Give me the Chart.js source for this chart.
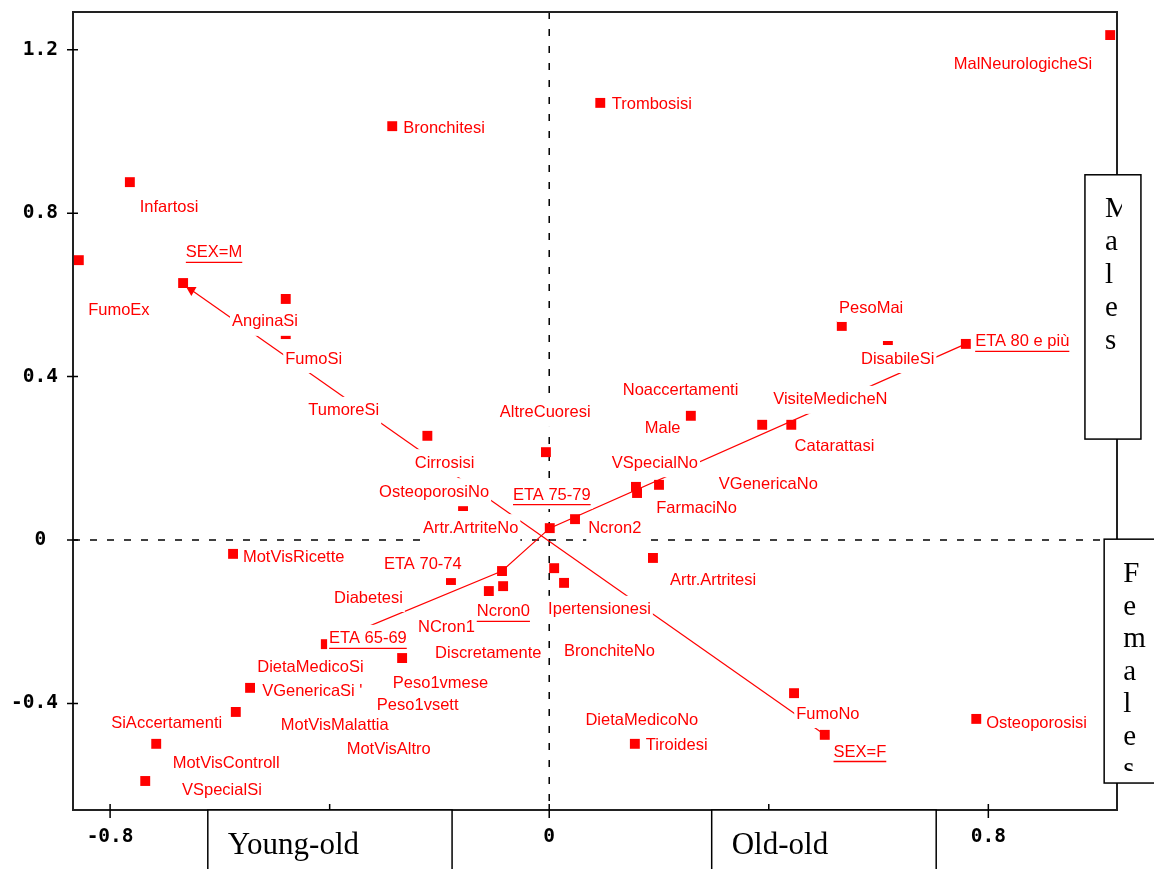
<!DOCTYPE html>
<html lang="it">
<head>
<meta charset="UTF-8">
<title>Analisi delle corrispondenze</title>
<script src="https://cdn.jsdelivr.net/npm/chart.js@4.4.0/dist/chart.umd.min.js"></script>
<style>
  html, body { margin: 0; padding: 0; background: #fff; }
  #grafico { display: block; }
</style>
</head>
<body>
<canvas id="grafico" width="1154" height="869"></canvas>
<script>
// Tacche degli assi
const xTicks = [-0.8, -0.4, 0, 0.4, 0.8];
const yTicks = [-0.4, 0, 0.4, 0.8, 1.2];

// Modalità (quadratini rossi) sul piano fattoriale
const puntiX = [1.022, 0.093, -0.286, -0.764, -0.857, -0.667, -0.480, -0.480, -0.222, -0.006,
  0.258, 0.388, 0.441, 0.533, 0.617, 0.759, 0.158, 0.160, 0.200, 0.047,
  0.001, -0.157, -0.576, 0.189, 0.009, 0.027, -0.086, -0.084, -0.110, -0.179,
  -0.407, -0.268, -0.545, -0.571, -0.716, -0.736, 0.446, 0.502, 0.778, 0.156];
const puntiY = [1.236, 1.070, 1.013, 0.876, 0.685, 0.629, 0.590, 0.504, 0.255, 0.215,
  0.304, 0.282, 0.282, 0.524, 0.475, 0.480, 0.130, 0.115, 0.135, 0.051,
  0.029, 0.083, -0.034, -0.044, -0.069, -0.105, -0.076, -0.113, -0.125, -0.098,
  -0.255, -0.289, -0.362, -0.421, -0.499, -0.590, -0.375, -0.477, -0.438, -0.499];

// Etichette delle modalità
const etichette = ['MalNeurologicheSi', 'Trombosisi', 'Bronchitesi', 'Infartosi', 'SEX=M', 'FumoEx',
  'AnginaSi', 'FumoSi', 'TumoreSi', 'Cirrosisi', 'OsteoporosiNo', 'AltreCuoresi', 'Noaccertamenti',
  'Male', 'VSpecialNo', 'ETA 75-79', 'VGenericaNo', 'FarmaciNo', 'Artr.ArtriteNo', 'Ncron2',
  'ETA 70-74', 'Artr.Artritesi', 'MotVisRicette', 'PesoMai', 'DisabileSi', 'ETA 80 e più',
  'VisiteMedicheN', 'Catarattasi', 'Diabetesi', 'ETA 65-69', 'Ncron0', 'NCron1', 'Ipertensionesi',
  'Discretamente', 'BronchiteNo', 'DietaMedicoSi', "VGenericaSi '", 'Peso1vmese', 'Peso1vsett',
  'MotVisMalattia', 'MotVisAltro', 'SiAccertamenti', 'MotVisControll', 'VSpecialSi',
  'DietaMedicoNo', 'Tiroidesi', 'FumoNo', 'SEX=F', 'Osteoporosisi'];
const etichetteX = [0.737, 0.114, -0.266, -0.746, -0.662, -0.840,
  -0.578, -0.481, -0.439, -0.245, -0.310, -0.090, 0.134,
  0.174, 0.114, -0.066, 0.309, 0.195, -0.230, 0.071,
  -0.301, 0.220, -0.558, 0.528, 0.568, 0.776,
  0.408, 0.447, -0.392, -0.401, -0.132, -0.239, -0.002,
  -0.208, 0.027, -0.532, -0.523, -0.285, -0.314,
  -0.489, -0.369, -0.798, -0.686, -0.669,
  0.066, 0.176, 0.450, 0.518, 0.796];
const etichetteY = [1.165, 1.065, 1.008, 0.815, 0.703, 0.561,
  0.534, 0.443, 0.316, 0.188, 0.117, 0.311, 0.365,
  0.274, 0.188, 0.110, 0.135, 0.078, 0.029, 0.029,
  -0.059, -0.098, -0.042, 0.568, 0.443, 0.485,
  0.343, 0.228, -0.142, -0.242, -0.176, -0.213, -0.171,
  -0.277, -0.272, -0.313, -0.370, -0.350, -0.404,
  -0.455, -0.514, -0.450, -0.546, -0.612,
  -0.441, -0.504, -0.426, -0.519, -0.448];

// Variabili illustrative: asse SEX e traiettoria delle classi di ETA
const sexX = [-0.652, 0.502];
const sexY = [0.612, -0.477];
const etaX = [-0.407, -0.086, 0.001, 0.759];
const etaY = [-0.255, -0.076, 0.029, 0.480];

// Riquadri di commento
const testoMaschi = 'Males';
const testoFemmine = 'Females';
const testoGiovani = 'Young-old';
const testoAnziani = 'Old-old';

const ROSSO = '#ff0000';
const FONT_ETICHETTE = '16.5px "Liberation Sans", Arial, sans-serif';
const FONT_RIQUADRI = '"Liberation Serif", "Times New Roman", serif';
const sottolineate = ['SEX=M', 'SEX=F', 'ETA 65-69', 'ETA 75-79', 'ETA 80 e più', 'Ncron0'];

// Assi tratteggiati per lo zero, cornice e tacche
const pluginAssi = {
  id: 'assi',
  beforeDatasetsDraw(chart) {
    const { ctx, chartArea: a, scales: { x, y } } = chart;
    ctx.save();
    ctx.strokeStyle = '#000';
    ctx.lineWidth = 1.5;
    ctx.setLineDash([7, 10]);
    const x0 = x.getPixelForValue(0);
    const y0 = y.getPixelForValue(0);
    ctx.beginPath();
    ctx.moveTo(x0, a.top); ctx.lineTo(x0, a.bottom);
    ctx.moveTo(a.left, y0); ctx.lineTo(a.right, y0);
    ctx.stroke();
    ctx.setLineDash([]);

    ctx.lineWidth = 2;
    ctx.strokeStyle = '#222';
    ctx.strokeRect(a.left, a.top, a.right - a.left, a.bottom - a.top);

    ctx.lineWidth = 1.5;
    ctx.strokeStyle = '#000';
    ctx.beginPath();
    xTicks.forEach(v => {
      const px = x.getPixelForValue(v);
      ctx.moveTo(px, a.bottom - 6); ctx.lineTo(px, a.bottom + 8);
    });
    yTicks.forEach(v => {
      const py = y.getPixelForValue(v);
      ctx.moveTo(a.left - 6, py); ctx.lineTo(a.left + 5, py);
    });
    ctx.stroke();
    ctx.restore();
  }
};

// Etichette con sfondo bianco (coprono linee e quadratini come nell'originale)
const pluginEtichette = {
  id: 'etichette',
  afterDatasetsDraw(chart) {
    const { ctx, scales: { x, y } } = chart;
    ctx.save();
    ctx.font = FONT_ETICHETTE;
    ctx.textBaseline = 'middle';
    ctx.textAlign = 'left';
    const items = etichette.map((t, i) => ({
      t,
      px: x.getPixelForValue(etichetteX[i]),
      py: y.getPixelForValue(etichetteY[i]),
      w: ctx.measureText(t).width
    }));
    ctx.fillStyle = '#fff';
    items.forEach(it => ctx.fillRect(it.px - 2, it.py - 14, it.w + 4, 28));
    ctx.fillStyle = ROSSO;
    ctx.strokeStyle = ROSSO;
    ctx.lineWidth = 1.3;
    items.forEach(it => {
      ctx.fillText(it.t, it.px, it.py);
      if (sottolineate.includes(it.t)) {
        ctx.beginPath();
        ctx.moveTo(it.px, it.py + 9.5);
        ctx.lineTo(it.px + it.w, it.py + 9.5);
        ctx.stroke();
      }
    });
    ctx.restore();
  }
};

// Riquadri Males / Females / Young-old / Old-old
function disegnaRiquadro(ctx, left, top, right, bottom) {
  ctx.fillStyle = '#fff';
  ctx.fillRect(left, top, right - left, bottom - top);
  ctx.strokeStyle = '#000';
  ctx.lineWidth = 1.5;
  ctx.strokeRect(left, top, right - left, bottom - top);
}

function testoVerticale(ctx, testo, left, baseline, passo, clip) {
  ctx.save();
  ctx.beginPath();
  ctx.rect(clip.left, clip.top, clip.right - clip.left, clip.bottom - clip.top);
  ctx.clip();
  ctx.fillStyle = '#000';
  ctx.font = '29px ' + FONT_RIQUADRI;
  ctx.textBaseline = 'alphabetic';
  testo.split('').forEach((c, i) => ctx.fillText(c, left, baseline + i * passo));
  ctx.restore();
}

const pluginRiquadri = {
  id: 'riquadri',
  afterDraw(chart) {
    const { ctx, chartArea: a, scales: { x, y }, width, height } = chart;
    ctx.save();

    // Males
    const mL = x.getPixelForValue(0.976), mR = x.getPixelForValue(1.078);
    const mT = y.getPixelForValue(0.894), mB = y.getPixelForValue(0.247);
    disegnaRiquadro(ctx, mL, mT, mR, mB);
    testoVerticale(ctx, testoMaschi, mL + 20, mT + 42, 33,
      { left: mL + 1, top: mT + 1, right: mL + 37, bottom: mB - 1 });

    // Females
    const fL = x.getPixelForValue(1.011), fR = width + 5;
    const fT = y.getPixelForValue(0.002), fB = y.getPixelForValue(-0.595);
    disegnaRiquadro(ctx, fL, fT, fR, fB);
    testoVerticale(ctx, testoFemmine, fL + 19, fT + 43, 32.5,
      { left: fL + 1, top: fT + 1, right: width, bottom: fB - 12 });

    // Young-old e Old-old sotto l'asse orizzontale
    ctx.font = '31px ' + FONT_RIQUADRI;
    [[-0.622, -0.177, testoGiovani], [0.296, 0.705, testoAnziani]].forEach(([v1, v2, t]) => {
      const l = x.getPixelForValue(v1), r = x.getPixelForValue(v2);
      disegnaRiquadro(ctx, l, a.bottom, r, height + 5);
      ctx.fillStyle = '#000';
      ctx.textBaseline = 'alphabetic';
      ctx.fillText(t, l + 20, a.bottom + 44);
    });
    ctx.restore();
  }
};

// Le etichette delle tacche non devono allargare il margine del grafico
function azzeraMargini(scale) {
  scale.paddingTop = 0;
  scale.paddingBottom = 0;
  scale.paddingLeft = 0;
  scale.paddingRight = 0;
}

document.addEventListener('DOMContentLoaded', () => {
  const ctx = document.getElementById('grafico').getContext('2d');
  const fontTacche = { family: '"DejaVu Sans Mono", monospace', size: 19.5, weight: 'bold' };

  new Chart(ctx, {
    type: 'scatter',
    data: {
      datasets: [
        {
          label: 'Modalità',
          data: puntiX.map((v, i) => ({ x: v, y: puntiY[i] })),
          pointStyle: 'rect',
          pointRadius: 7,
          backgroundColor: ROSSO,
          borderWidth: 0,
          showLine: false
        },
        {
          label: 'SEX',
          data: sexX.map((v, i) => ({ x: v, y: sexY[i] })),
          showLine: true,
          borderColor: ROSSO,
          borderWidth: 1.2,
          backgroundColor: ROSSO,
          pointStyle: 'triangle',
          pointRadius: [6, 0],
          rotation: 180,
          pointBorderWidth: 0
        },
        {
          label: 'ETA',
          data: etaX.map((v, i) => ({ x: v, y: etaY[i] })),
          showLine: true,
          borderColor: ROSSO,
          borderWidth: 1.2,
          pointRadius: 0
        }
      ]
    },
    options: {
      responsive: false,
      animation: false,
      devicePixelRatio: 1,
      layout: { padding: { top: 12, right: 37, left: 0, bottom: 0 } },
      plugins: {
        legend: { display: false },
        tooltip: { enabled: false }
      },
      scales: {
        x: {
          type: 'linear',
          min: -0.8676,
          max: 1.0344,
          afterBuildTicks: axis => { axis.ticks = xTicks.map(v => ({ value: v })); },
          afterFit: scale => { scale.height = 59; azzeraMargini(scale); },
          grid: { display: false, drawTicks: false },
          border: { display: false },
          ticks: {
            color: '#000',
            font: fontTacche,
            padding: 15,
            maxRotation: 0,
            autoSkip: false,
            callback: v => (v === 0 ? '0' : v.toFixed(1))
          }
        },
        y: {
          type: 'linear',
          min: -0.661,
          max: 1.2925,
          afterBuildTicks: axis => { axis.ticks = yTicks.map(v => ({ value: v })); },
          afterFit: scale => { scale.width = 73; azzeraMargini(scale); },
          grid: { display: false, drawTicks: false },
          border: { display: false },
          ticks: {
            color: '#000',
            font: fontTacche,
            padding: 15,
            autoSkip: false,
            callback: v => (v === 0 ? '0 ' : v.toFixed(1))
          }
        }
      }
    },
    plugins: [pluginAssi, pluginEtichette, pluginRiquadri]
  });
});
</script>
</body>
</html>
